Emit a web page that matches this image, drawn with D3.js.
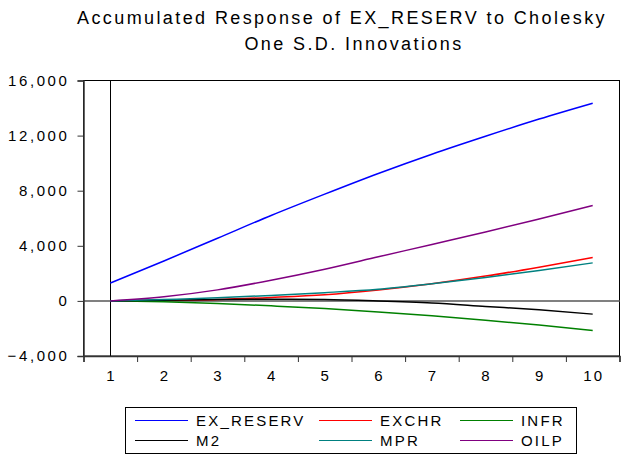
<!DOCTYPE html>
<html>
<head>
<meta charset="utf-8">
<script src="https://cdn.jsdelivr.net/npm/d3@7"></script>
<style>
  body { margin: 0; background: #fff; }
  text { font-family: "Liberation Sans", Arial, sans-serif; }
</style>
</head>
<body>
<div id="chart"></div>
<script>
// periods and accumulated responses
var periods = [1, 2, 3, 4, 5, 6, 7, 8, 9, 10];
var exReserv = [1300, 2900, 4550, 6200, 7750, 9250, 10650, 11950, 13200, 14350];
var exchr = [0, 30, 100, 250, 450, 800, 1250, 1800, 2450, 3150];
var infr = [0, -60, -180, -360, -560, -800, -1080, -1400, -1750, -2140];
var m2 = [0, 50, 100, 120, 100, 0, -150, -400, -650, -960];
var mpr = [0, 100, 220, 400, 600, 850, 1250, 1700, 2200, 2760];
var oilp = [0, 300, 800, 1500, 2300, 3200, 4100, 5000, 5950, 6920];
var yTicks = [-4000, 0, 4000, 8000, 12000, 16000];

var series = [
    { name: "EX_RESERV", values: exReserv, color: "#0000ff" },
    { name: "EXCHR", values: exchr, color: "#ff0000" },
    { name: "INFR", values: infr, color: "#008000" },
    { name: "M2", values: m2, color: "#000000" },
    { name: "MPR", values: mpr, color: "#008080" },
    { name: "OILP", values: oilp, color: "#800080" }
];

var width = 637, height = 460;
var pLeft = 83.5, pRight = 619.5, pTop = 80.5, pBottom = 356;

var svg = d3.select("#chart").append("svg")
    .attr("width", width)
    .attr("height", height);

var x = d3.scaleLinear().domain([0.5, 10.5]).range([pLeft, pRight]);
var y = d3.scaleLinear().domain([-4000, 16000]).range([pBottom, pTop]);

// title
var title = svg.append("text")
    .attr("text-anchor", "middle")
    .style("font-size", "18px")
    .style("letter-spacing", "2.4px");
title.append("tspan").attr("x", 342).attr("y", 24).text("Accumulated Response of EX_RESERV to Cholesky");
title.append("tspan").attr("x", 354).attr("y", 50).text("One S.D. Innovations");

// frame
svg.append("rect")
    .attr("x", pLeft).attr("y", pTop)
    .attr("width", pRight - pLeft).attr("height", pBottom - pTop)
    .attr("fill", "none").attr("stroke", "#000");

// zero line
svg.append("line")
    .attr("x1", pLeft).attr("x2", pRight)
    .attr("y1", y(0)).attr("y2", y(0))
    .attr("stroke", "#808080").attr("stroke-width", 2);

// vertical line at period 1
var vx = Math.round(x(1)) + 0.5;
svg.append("line")
    .attr("x1", vx).attr("x2", vx)
    .attr("y1", pTop).attr("y2", pBottom)
    .attr("stroke", "#000");

// y axis
var yAxis = d3.axisLeft(y)
    .tickValues(yTicks)
    .tickSize(6)
    .tickPadding(8)
    .tickFormat(d3.format(",.0f"));
var gy = svg.append("g")
    .attr("transform", "translate(" + pLeft + ",0)")
    .call(yAxis);
gy.select(".domain").attr("stroke", "#333").attr("stroke-width", 1.5);
gy.selectAll(".tick line").attr("stroke", "#333");
gy.selectAll("text")
    .style("font-size", "15px")
    .style("letter-spacing", "2.6px")
    .style("font-family", "Liberation Sans, Arial, sans-serif")
    .attr("fill", "#000");

// x axis: ticks between periods, labels on periods
var xAxis = d3.axisBottom(x)
    .tickValues(d3.range(0.5, 11, 1))
    .tickSize(6)
    .tickFormat("");
var gx = svg.append("g")
    .attr("transform", "translate(0," + pBottom + ")")
    .call(xAxis);
gx.select(".domain").attr("stroke", "#333").attr("stroke-width", 1.5);
gx.selectAll(".tick line").attr("stroke", "#333");

svg.append("g").selectAll("text")
    .data(periods)
    .enter().append("text")
    .attr("x", function(d) { return x(d) + 1; })
    .attr("y", 381)
    .attr("text-anchor", "middle")
    .style("font-size", "15px")
    .style("letter-spacing", "2px")
    .text(function(d) { return d; });

// lines
var line = d3.line()
    .x(function(d, i) { return x(periods[i]); })
    .y(function(d) { return y(d); })
    .curve(d3.curveMonotoneX);

svg.append("g").selectAll("path")
    .data(series)
    .enter().append("path")
    .attr("d", function(d) { return line(d.values); })
    .attr("fill", "none")
    .attr("stroke", function(d) { return d.color; })
    .attr("stroke-width", 1.5);

// legend
var lg = svg.append("g");
lg.append("rect")
    .attr("x", 125.5).attr("y", 407.5)
    .attr("width", 451).attr("height", 46)
    .attr("fill", "#fff").attr("stroke", "#000");

var colX = [135, 319, 460];
var rowY = [420.5, 440.5];
var item = lg.selectAll(".item")
    .data(series)
    .enter().append("g")
    .attr("class", "item")
    .attr("transform", function(d, i) {
        return "translate(" + colX[i % 3] + "," + rowY[Math.floor(i / 3)] + ")";
    });
item.append("line")
    .attr("x1", 0).attr("x2", 53)
    .attr("stroke", function(d) { return d.color; });
item.append("text")
    .attr("x", 61)
    .attr("dy", "0.35em")
    .style("font-size", "15px")
    .style("letter-spacing", "2.2px")
    .text(function(d) { return d.name; });
</script>
</body>
</html>
